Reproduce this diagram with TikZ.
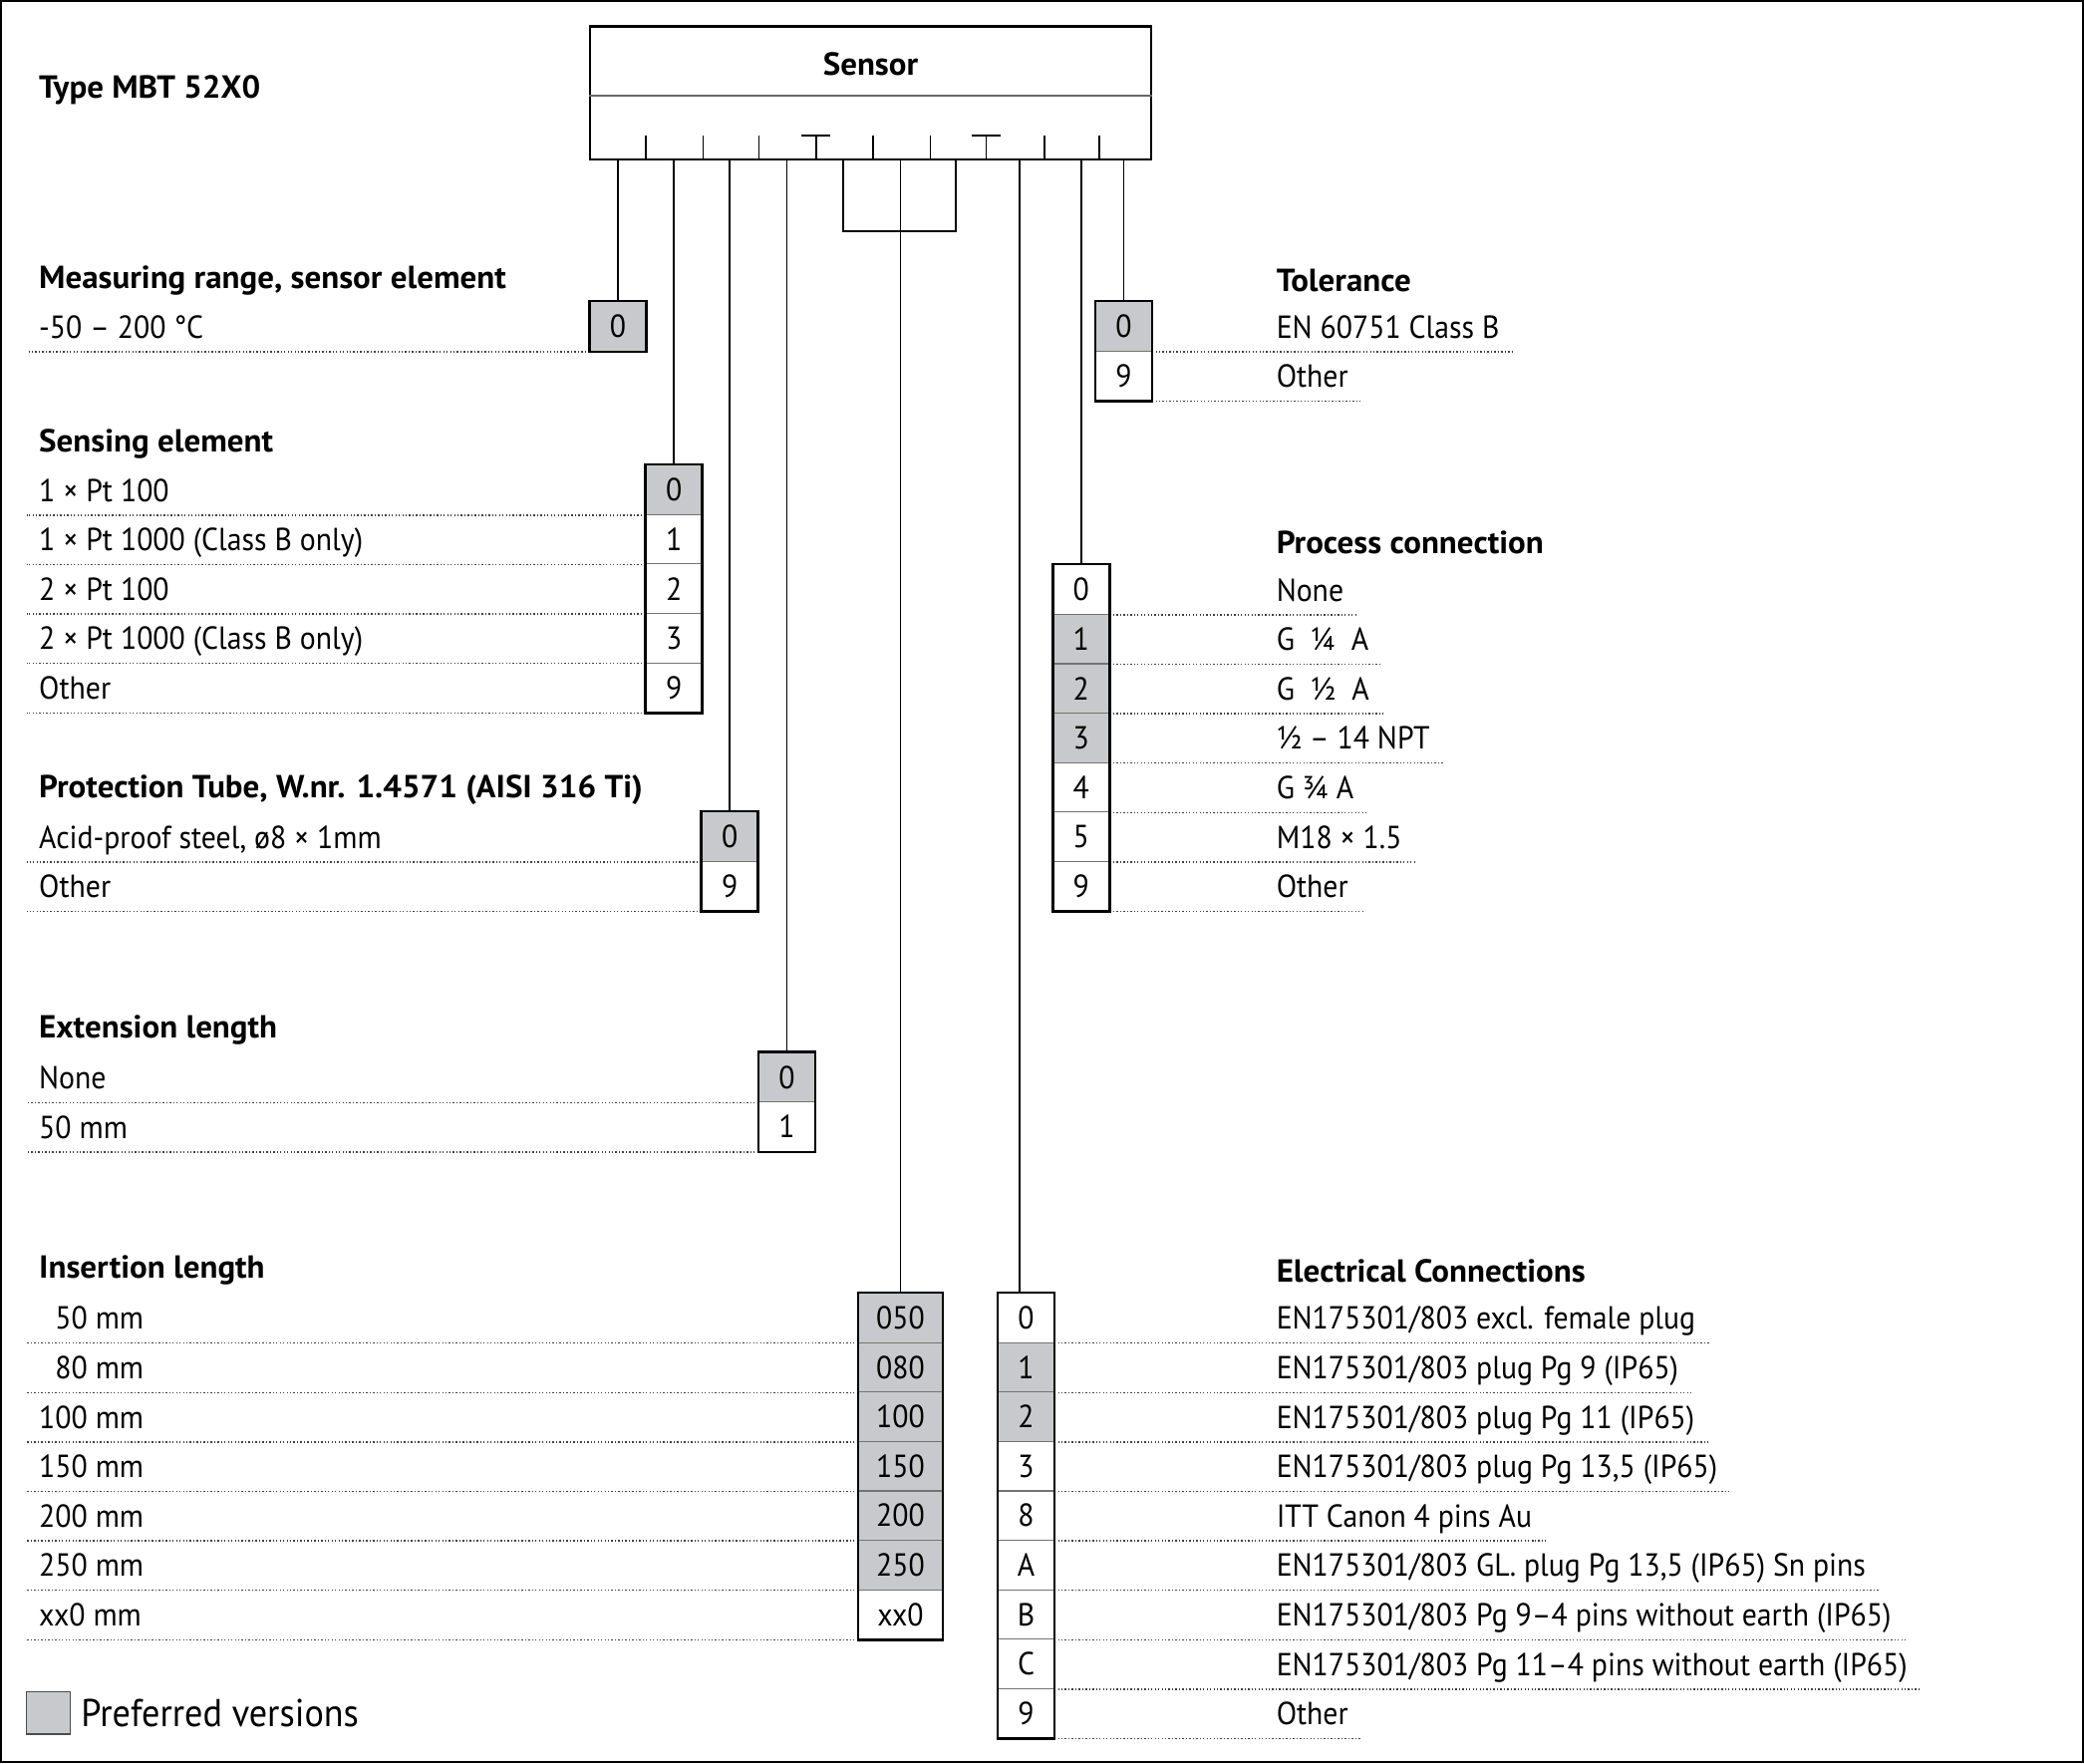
\documentclass[tikz,border=0pt]{standalone}
\usepackage{fontspec}
\setmainfont{PT Sans}[FakeStretch=0.93]
\newfontfamily\headfont{PT Sans}[FakeStretch=1.03]
\usetikzlibrary{positioning}
\definecolor{pref}{RGB}{200,201,204}

\begin{document}
\begin{tikzpicture}[x=0.5pt, y=-0.5pt,
	every node/.style={font=\fontsize{12}{14}\selectfont},
	cell/.style={draw=black!55, line width=0.4pt, minimum width=21pt, minimum height=18.6pt, inner sep=0pt},
	head/.style={anchor=west, inner sep=0pt, font=\headfont\bfseries\fontsize{12}{14}\selectfont},
	lab/.style={anchor=west, inner sep=0pt, text height=1.5ex, text depth=0.35ex},
	rowline/.style={line width=0.5pt, black!75, dash pattern=on 0.5pt off 0.8pt},
	wire/.style={line width=0.6pt},
	outline/.style={line width=0.9pt}]
	\useasboundingbox (0,0) rectangle (1568,1327);
	\draw[line width=0.8pt] (1,1) rectangle (1567,1326);
	\coordinate (lm) at (20,0);
	\node[head] (title) at (29,68) {Type MBT 52X0};
	% sensor block
	\node[draw, outline, minimum width=211pt, minimum height=50pt, inner sep=0pt] (sensor) at (655,70) {};
	\node[head, anchor=center] (sensorname) at (655,48) {Sensor};
	\draw[black!60, line width=0.6pt] (sensor.west |- 0,72) -- (sensor.east |- 0,72);
	\foreach \t in {486,529,571,657,700,786,827}
		\draw[wire] (\t,102) -- (\t,120);
	\foreach \t in {614,742}
		\draw[wire] (\t-11,102) -- (\t+11,102) (\t,102) -- (\t,120);
	\draw[wire] (634.5,120) |- (719,174) -- (719,120);

	% left side
	\node[head] (rangehead) at (29,211) {Measuring range, sensor element};
	\foreach \lab/\code/\col [count=\i from 0] in {{-50 – 200 °C}/0/pref}{
		\node[cell, fill=\col] (range\i) at (465,227+18.6+37.2*\i) {\code};
		\node[lab] (rangelab\i) at (29,227+21.5+37.2*\i) {\lab};
		\draw[rowline] (range\i.south west) -- (range\i.south west -| lm);
	}
	\draw[outline] (range0.north west) rectangle (range0.south east);

	\node[head] (elemhead) at (29,334) {Sensing element};
	\foreach \lab/\code/\col [count=\i from 0] in {{1 × Pt 100}/0/pref, {1 × Pt 1000 (Class B only)}/1/white,
			{2 × Pt 100}/2/white, {2 × Pt 1000 (Class B only)}/3/white, Other/9/white}{
		\node[cell, fill=\col] (elem\i) at (507,350+18.6+37.2*\i) {\code};
		\node[lab] (elemlab\i) at (29,350+21.5+37.2*\i) {\lab};
		\draw[rowline] (elem\i.south west) -- (elem\i.south west -| lm);
	}
	\draw[outline] (elem0.north west) rectangle (elem4.south east);

	\node[head] (tubehead) at (29,594) {Protection Tube, W.nr. 1.4571 (AISI 316 Ti)};
	\foreach \lab/\code/\col [count=\i from 0] in {{Acid-proof steel, ø8 × 1mm}/0/pref, Other/9/white}{
		\node[cell, fill=\col] (tube\i) at (549,611+18.6+37.2*\i) {\code};
		\node[lab] (tubelab\i) at (29,611+21.5+37.2*\i) {\lab};
		\draw[rowline] (tube\i.south west) -- (tube\i.south west -| lm);
	}
	\draw[outline] (tube0.north west) rectangle (tube1.south east);

	\node[head] (exthead) at (29,775) {Extension length};
	\foreach \lab/\code/\col [count=\i from 0] in {None/0/pref, {50 mm}/1/white}{
		\node[cell, fill=\col] (ext\i) at (592,792+18.6+37.2*\i) {\code};
		\node[lab] (extlab\i) at (29,792+21.5+37.2*\i) {\lab};
		\draw[rowline] (ext\i.south west) -- (ext\i.south west -| lm);
	}
	\draw[outline] (ext0.north west) rectangle (ext1.south east);

	\node[head] (inshead) at (29,956) {Insertion length};
	\foreach \lab/\code/\col [count=\i from 0] in {{\hphantom{0}50 mm}/050/pref, {\hphantom{0}80 mm}/080/pref,
			{100 mm}/100/pref, {150 mm}/150/pref, {200 mm}/200/pref, {250 mm}/250/pref, {xx0 mm}/xx0/white}{
		\node[cell, minimum width=31.5pt, fill=\col] (ins\i) at (677.5,973+18.6+37.2*\i) {\code};
		\node[lab] (inslab\i) at (29,973+21.5+37.2*\i) {\lab};
		\draw[rowline] (ins\i.south west) -- (ins\i.south west -| lm);
	}
	\draw[outline] (ins0.north west) rectangle (ins6.south east);

	% right side
	\node[head] (tolhead) at (960,211) {Tolerance};
	\foreach \lab/\code/\col [count=\i from 0] in {{EN 60751 Class B}/0/pref, Other/9/white}{
		\node[cell, fill=\col] (tol\i) at (845.5,227+18.6+37.2*\i) {\code};
		\node[lab] (tollab\i) at (960,227+21.5+37.2*\i) {\lab};
		\draw[rowline] (tol\i.south east) -- (tol\i.south east -| tollab\i.east) -- ++(5pt,0);
	}
	\draw[outline] (tol0.north west) rectangle (tol1.south east);

	\node[head] (prochead) at (960,408) {Process connection};
	\foreach \lab/\code/\col [count=\i from 0] in {None/0/white, {G\enspace ¼\enspace A}/1/pref, {G\enspace ½\enspace A}/2/pref,
			{½ – 14 NPT}/3/pref, {G ¾ A}/4/white, {M18 × 1.5}/5/white, Other/9/white}{
		\node[cell, fill=\col] (proc\i) at (813.5,425+18.6+37.2*\i) {\code};
		\node[lab] (proclab\i) at (960,425+21.5+37.2*\i) {\lab};
		\draw[rowline] (proc\i.south east) -- (proc\i.south east -| proclab\i.east) -- ++(5pt,0);
	}
	\draw[outline] (proc0.north west) rectangle (proc6.south east);

	\node[head] (elechead) at (960,956) {Electrical Connections};
	\foreach \lab/\code/\col [count=\i from 0] in {{EN175301/803 excl. female plug}/0/white,
			{EN175301/803 plug Pg 9 (IP65)}/1/pref, {EN175301/803 plug Pg 11 (IP65)}/2/pref,
			{EN175301/803 plug Pg 13,5 (IP65)}/3/white, {ITT Canon 4 pins Au}/8/white,
			{EN175301/803 GL. plug Pg 13,5 (IP65) Sn pins}/A/white,
			{EN175301/803 Pg 9–4 pins without earth (IP65)}/B/white,
			{EN175301/803 Pg 11–4 pins without earth (IP65)}/C/white, Other/9/white}{
		\node[cell, fill=\col] (elec\i) at (772,973+18.6+37.2*\i) {\code};
		\node[lab] (eleclab\i) at (960,973+21.5+37.2*\i) {\lab};
		\draw[rowline] (elec\i.south east) -- (elec\i.south east -| eleclab\i.east) -- ++(5pt,0);
	}
	\draw[outline] (elec0.north west) rectangle (elec8.south east);
	\coordinate (elecin) at (767,973);

	% connectors
	\draw[wire] (range0.north |- sensor.south) -- (range0.north);
	\draw[wire] (elem0.north |- sensor.south) -- (elem0.north);
	\draw[wire] (tube0.north |- sensor.south) -- (tube0.north);
	\draw[wire] (ext0.north |- sensor.south) -- (ext0.north);
	\draw[wire] (ins0.north |- sensor.south) -- (ins0.north);
	\draw[wire] (elecin |- sensor.south) -- (elecin);
	\draw[wire] (proc0.north |- sensor.south) -- (proc0.north);
	\draw[wire] (tol0.north |- sensor.south) -- (tol0.north);

	% legend
	\node[draw=black!70, line width=0.6pt, fill=pref, minimum width=16.5pt, minimum height=16pt, inner sep=0pt] (legend) at (36.5,1289) {};
	\node[right=3.5pt of legend, inner sep=0pt, font=\fontsize{14.6}{17}\selectfont] (legendtext) {Preferred versions};
\end{tikzpicture}
\end{document}
